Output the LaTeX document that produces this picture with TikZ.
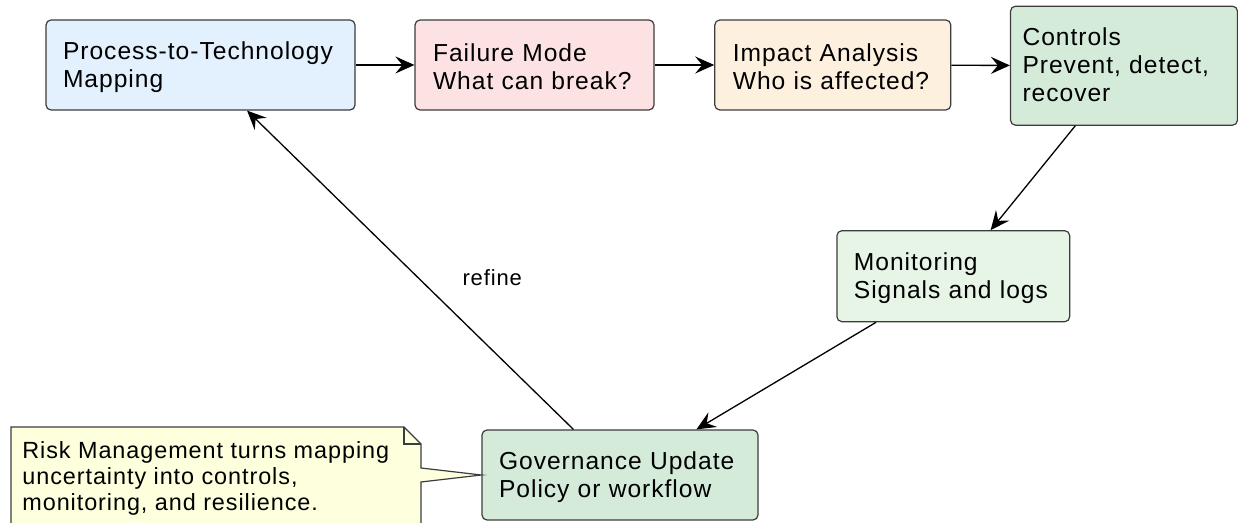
\documentclass[tikz,border=0pt]{standalone}
\usepackage{fontspec}
\setmainfont{Liberation Sans}[LetterSpace=4]
\usetikzlibrary{arrows.meta}

\definecolor{mapfill}{HTML}{E3F0FD}
\definecolor{failfill}{HTML}{FDE2E4}
\definecolor{impactfill}{HTML}{FEF0DE}
\definecolor{ctrlfill}{HTML}{D4EBDA}
\definecolor{monfill}{HTML}{E7F5E7}
\definecolor{notefill}{HTML}{FEFFDD}
\definecolor{edge}{HTML}{3C3C3C}

\tikzset{
  stepbox/.style={draw=edge, line width=0.6pt, rounded corners=2.5pt,
    align=left, inner xsep=8.5pt, inner ysep=0pt, text height=11pt,
    font=\fontsize{12.3}{14}\selectfont},
  flow/.style={-{Stealth[length=9.5pt,width=8.5pt,inset=3.5pt]}, line width=0.65pt, black},
  notetext/.style={align=left, inner xsep=5.5pt, inner ysep=7pt,
    font=\fontsize{11.7}{13}\selectfont}
}

\begin{document}
\begin{tikzpicture}[x=0.5pt, y=-0.5pt]

\useasboundingbox (0,0) rectangle (1238,523);

% process chain
\node [stepbox, fill=mapfill, minimum width=154.5pt, minimum height=45pt, text width=137.5pt]
  (map) at (200.5,65) {Process-to-Technology\\Mapping};
\node [stepbox, fill=failfill, minimum width=119.5pt, minimum height=45pt, text width=101.5pt, inner xsep=9pt]
  (fail) at (534.5,65) {Failure Mode\\What can break?};
\node [stepbox, fill=impactfill, minimum width=118pt, minimum height=45pt, text width=100pt, inner xsep=9pt]
  (impact) at (832.8,65) {Impact Analysis\\Who is affected?};
\node [stepbox, fill=ctrlfill, minimum width=113.5pt, minimum height=59.5pt, text width=101.5pt, inner xsep=6pt, text height=8pt]
  (ctrl) at (1124,65.7) {Controls\\Prevent, detect,\\recover};
\node [stepbox, fill=monfill, minimum width=116.4pt, minimum height=45.5pt, text width=99.4pt]
  (mon) at (953.3,276.2) {Monitoring\\Signals and logs};
\node [stepbox, fill=ctrlfill, minimum width=138pt, minimum height=45pt, text width=121pt]
  (gov) at (620,475) {Governance Update\\Policy or workflow};

\draw [flow] (map) -- (fail);
\draw [flow] (fail) -- (impact);
\draw [flow] (impact) -- (ctrl);
\draw [flow] (ctrl) -- (mon);
\draw [flow] (mon) -- (gov);
\draw [flow] (gov) -- node[pos=0.475, anchor=west, xshift=21.75pt, inner sep=0pt,
  font=\fontsize{11}{13}\selectfont] (refine) {refine} (map);

% note with folded corner, cut off by the page edge
\begin{scope}
\clip (0,0) rectangle (1238,523);
\coordinate (notetip) at (gov.west);
\filldraw [fill=notefill, draw=edge, line width=0.6pt]
  (11,560) -- (11,427) -- (404,427) -- (421,444) -- (421,468)
  -- (notetip) -- (421,482) -- (421,560);
\draw [edge, line width=0.6pt] (404,427) -- (404,444) -- (421,444);
\node [notetext, anchor=north west] (note) at (11,427)
  {Risk Management turns mapping\\uncertainty into controls,\\monitoring, and resilience.};
\end{scope}

\end{tikzpicture}
\end{document}
